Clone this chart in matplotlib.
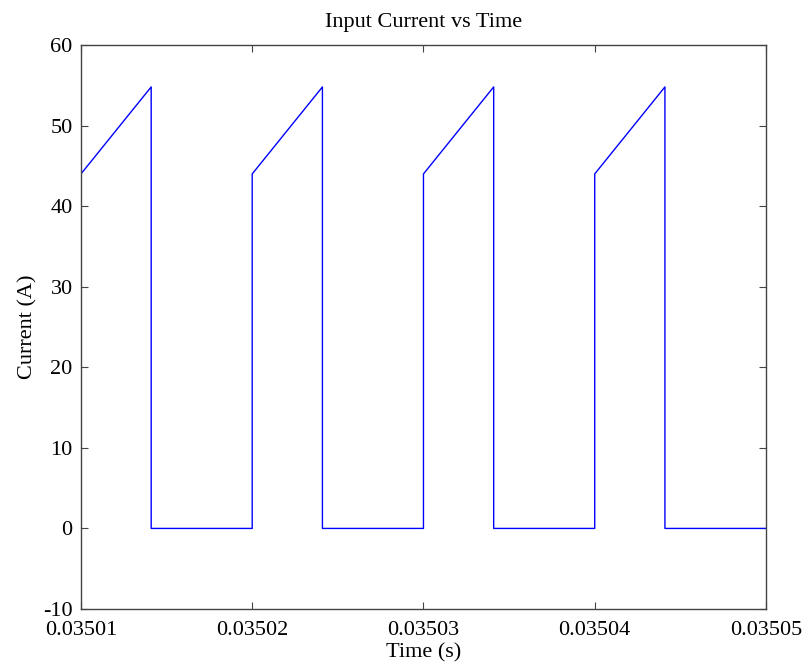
import matplotlib.pyplot as plt

# Data
t = [0.03501, 0.0350141, 0.0350141, 0.03502, 0.03502, 0.0350241, 0.0350241,
     0.03503, 0.03503, 0.0350341, 0.0350341, 0.03504, 0.03504, 0.0350441,
     0.0350441, 0.03505]
current = [44, 54.8, 0, 0, 44, 54.8, 0, 0, 44, 54.8, 0, 0, 44, 54.8, 0, 0]

xticks = [0.03501, 0.03502, 0.03503, 0.03504, 0.03505]
xticklabels = ["0.03501", "0.03502", "0.03503", "0.03504", "0.03505"]
yticks = [-10, 0, 10, 20, 30, 40, 50, 60]

plt.rcParams['font.family'] = ['Liberation Serif', 'DejaVu Serif']
plt.rcParams['axes.unicode_minus'] = False

fig = plt.figure(figsize=(8.04, 6.69), dpi=100)
ax = fig.add_axes([0.1007, 0.0897, 0.852, 0.843])

ax.plot(t, current, color="#0000ff", linewidth=1.0)

ax.set_xlim(0.03501, 0.03505)
ax.set_ylim(-10, 60)
ax.set_xticks(xticks)
ax.set_xticklabels(xticklabels)
ax.set_yticks(yticks)

ax.tick_params(direction="in", top=True, right=True, length=5, width=0.8,
               labelsize=16, color="#444444")
ax.tick_params(axis="x", pad=9)
ax.tick_params(axis="y", pad=6)
for s in ax.spines.values():
    s.set_color("#444444")
    s.set_linewidth(1.0)

ax.set_title("Input Current vs Time", fontsize=16, pad=13)
ax.set_xlabel("Time (s)", fontsize=16, labelpad=2)
ax.set_ylabel("Current (A)", fontsize=16, labelpad=4)

fig.savefig("out.png", dpi=100)
